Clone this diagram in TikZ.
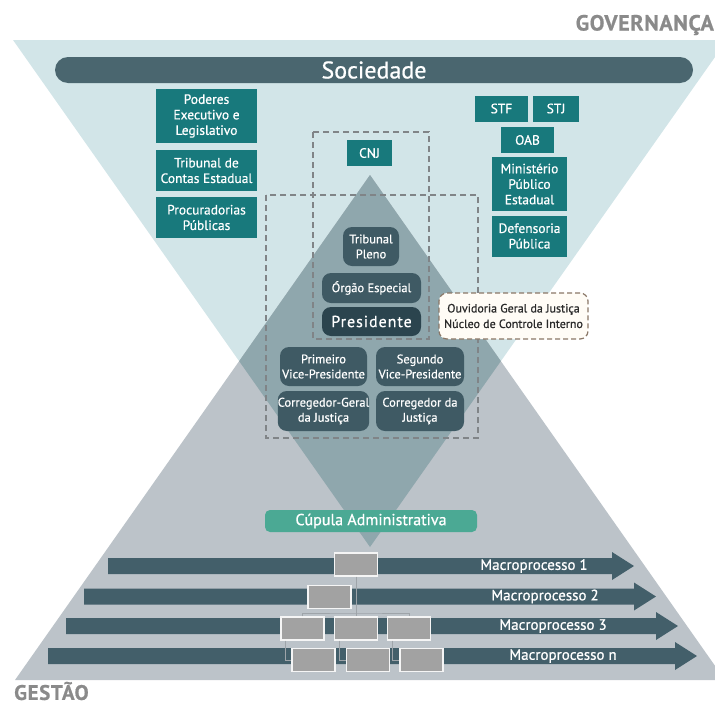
\documentclass[tikz,border=0pt]{standalone}
\usepackage{fontspec}
\setmainfont{PT Sans}[FakeBold=0.7]
\usepackage{tikz}
\usetikzlibrary{arrows.meta, positioning, shapes}

\definecolor{tealbg}{HTML}{D2E5E8}
\definecolor{graybg}{HTML}{BCC3C9}
\definecolor{overlap}{HTML}{8FA7AD}
\definecolor{slate}{HTML}{3F5A64}
\definecolor{slatedark}{HTML}{2B444E}
\definecolor{barslate}{HTML}{4A666F}
\definecolor{boxteal}{HTML}{18797C}
\definecolor{cupgreen}{HTML}{4BA994}
\definecolor{arrowslate}{HTML}{435F6A}
\definecolor{blockgray}{HTML}{A2A2A2}
\definecolor{titlegray}{HTML}{8A8A8A}
\definecolor{dashgray}{HTML}{808487}
\definecolor{ouvbrown}{HTML}{8A7767}
\definecolor{cream}{HTML}{FFFCF6}
\definecolor{darktext}{HTML}{2A2A2A}
\definecolor{linegray}{HTML}{9EA4A9}

\tikzset{
  tealbox/.style={fill=boxteal, text=white, align=center, inner sep=0pt,
    font=\fontsize{13.5}{15.5}\selectfont},
  slatebox/.style={fill=slate, rounded corners=9pt, text=white, align=center,
    inner sep=0pt, font=\fontsize{12.5}{15}\selectfont},
  grayblock/.style={fill=blockgray, draw=white!92!gray, line width=1.2pt,
    minimum width=43pt, minimum height=23pt, inner sep=0pt},
  dashbox/.style={draw=dashgray, line width=1.3pt, dash pattern=on 6pt off 4pt},
  orgline/.style={draw=linegray, line width=0.8pt},
  macrotext/.style={text=white, font=\fontsize{15}{15}\selectfont, inner sep=0pt}
}

\begin{document}
\begin{tikzpicture}[x=1pt, y=-1pt]
\useasboundingbox (0,0) rectangle (715,707);
\clip (0,0) rectangle (715,707);

% Triangles
\fill[tealbg] (13,40) -- (727,40) -- (370,547) -- cycle;
\fill[graybg] (370,175) -- (725,680) -- (15,680) -- cycle;
\begin{scope}
  \clip (13,40) -- (727,40) -- (370,547) -- cycle;
  \fill[overlap] (370,175) -- (725,680) -- (15,680) -- cycle;
\end{scope}

% Titles
\node[anchor=east, inner sep=0pt, text=titlegray, font=\bfseries\fontsize{22}{22}\selectfont\addfontfeatures{LetterSpace=3}] (gov) at (714,25) {GOVERNANÇA};
\node[anchor=west, inner sep=0pt, text=titlegray, font=\bfseries\fontsize{21}{21}\selectfont\addfontfeatures{LetterSpace=3}] (ges) at (14,691) {GESTÃO};

% Sociedade
\node[fill=barslate, rounded corners=13pt, minimum width=638pt, minimum height=26pt, inner sep=0pt,
  text=white, font=\fontsize{24}{24}\selectfont] (soc) at (374,70) {Sociedade};

% Left column
\node[tealbox, minimum width=101pt, minimum height=54pt] (pel) at (206.5,116) {Poderes\\Executivo e\\Legislativo};
\node[tealbox, minimum width=101pt, minimum height=41pt] (tce) at (206.5,170.5) {Tribunal de\\Contas Estadual};
\node[tealbox, minimum width=101pt, minimum height=41pt] (proc) at (206.5,217.5) {Procuradorias\\Públicas};

% Right column
\node[tealbox, minimum width=53pt, minimum height=26pt] (stf) at (501.5,108.5) {STF};
\node[tealbox, minimum width=46pt, minimum height=26pt] (stj) at (556,108.5) {STJ};
\node[tealbox, minimum width=53pt, minimum height=26pt] (oab) at (527.5,140) {OAB};
\node[tealbox, minimum width=75pt, minimum height=54pt] (mpe) at (529.5,184) {Ministério\\Público\\Estadual};
\node[tealbox, minimum width=75pt, minimum height=41pt] (dp) at (529.5,236) {Defensoria\\Pública};

% CNJ
\node[tealbox, minimum width=45pt, minimum height=26pt] (cnj) at (369.5,153) {CNJ};

% Dashed frames
\draw[dashbox] (313,132) rectangle (429,339);
\draw[dashbox] (266,195) rectangle (478,438);

% Tribunal
\node[slatebox, minimum width=56pt, minimum height=39pt] (tp) at (371,246.5) {Tribunal\\Pleno};
\node[slatebox, minimum width=99pt, minimum height=30pt] (oe) at (371.5,288) {Órgão Especial};
\node[slatebox, fill=slatedark, minimum width=99pt, minimum height=29pt,
  font=\fontsize{16}{16}\selectfont\addfontfeatures{LetterSpace=6}] (pres) at (371.5,321.5) {Presidente};
\node[slatebox, minimum width=87pt, minimum height=39pt] (pvp) at (323.5,366.5) {Primeiro\\Vice-Presidente};
\node[slatebox, minimum width=88pt, minimum height=39pt] (svp) at (420,366.5) {Segundo\\Vice-Presidente};
\node[slatebox, minimum width=87pt, minimum height=40pt] (cgj) at (323.5,411) {Corregedor-Geral\\da Justiça};
\node[slatebox, minimum width=88pt, minimum height=40pt] (cj) at (420,411) {Corregedor da\\Justiça};

% Ouvidoria
\node[draw=ouvbrown, dash pattern=on 5pt off 3pt, fill=cream, rounded corners=8pt, line width=1.2pt,
  minimum width=149pt, minimum height=46pt, align=center, inner sep=0pt, text=darktext,
  font=\fontsize{12}{15.5}\selectfont] (ouv) at (513.5,316) {Ouvidoria Geral da Justiça\\Núcleo de Controle Interno};

% Cupula
\node[fill=cupgreen, rounded corners=5pt, minimum width=212pt, minimum height=22pt, inner sep=0pt,
  text=white, font=\fontsize{16}{16}\selectfont] (cup) at (371,521) {Cúpula Administrativa};

% Macroprocessos
\fill[arrowslate] (108,558) -- (612,558) -- (612,552) -- (634,566) -- (612,580) -- (612,574) -- (108,574) -- cycle;
\fill[arrowslate] (84,588.5) -- (634,588.5) -- (634,582.5) -- (656,596.5) -- (634,610.5) -- (634,604.5) -- (84,604.5) -- cycle;
\fill[arrowslate] (66,618) -- (656,618) -- (656,612) -- (678,626) -- (656,640) -- (656,634) -- (66,634) -- cycle;
\fill[arrowslate] (48,648) -- (675,648) -- (675,642) -- (697,656) -- (675,670) -- (675,664) -- (48,664) -- cycle;
\node[macrotext] (m1) at (534,566) {Macroprocesso 1};
\node[macrotext] (m2) at (545,596.5) {Macroprocesso 2};
\node[macrotext] (m3) at (553,626) {Macroprocesso 3};
\node[macrotext] (mn) at (563,656) {Macroprocesso n};

% Org chart
\node[grayblock] (b1) at (356,564.5) {};
\node[grayblock] (b2) at (329.5,597) {};
\node[grayblock] (b3a) at (302.5,628.5) {};
\node[grayblock] (b3b) at (356,628.5) {};
\node[grayblock] (b3c) at (409,628.5) {};
\node[grayblock] (b4a) at (313.5,660) {};
\node[grayblock] (b4b) at (368,660) {};
\node[grayblock] (b4c) at (421.5,660) {};
\coordinate (bus) at (356,613);
\draw[orgline] (b1.south) -- (b3b.north);
\draw[orgline] (b3a.north) |- (bus) -| (b3c.north);
\draw[orgline] ([xshift=-17pt]b3a.south) |- (b4a.west);
\draw[orgline] ([xshift=-17pt]b3b.south) |- (b4b.west);
\draw[orgline] ([xshift=-17pt]b3c.south) |- (b4c.west);
\end{tikzpicture}
\end{document}
